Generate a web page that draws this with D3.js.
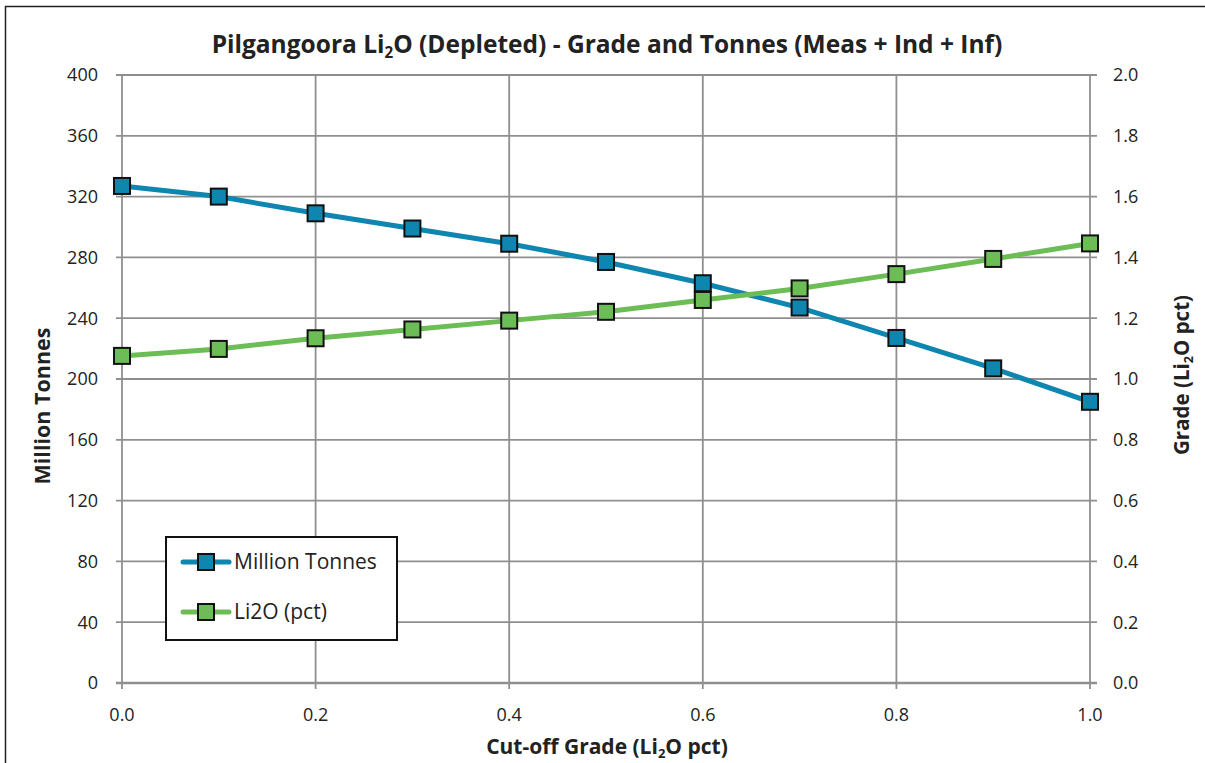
<!DOCTYPE html>
<html>
<head>
<meta charset="utf-8">
<script src="https://cdn.jsdelivr.net/npm/d3@7"></script>
<style>
  body { margin: 0; background: #fff; }
  svg text { font-family: "Open Sans", "Noto Sans", sans-serif; fill: #222; }
</style>
</head>
<body>
<div id="chart"></div>
<script>
// cut-off grades and the two series
const cutoffs = [0.0, 0.1, 0.2, 0.3, 0.4, 0.5, 0.6, 0.7, 0.8, 0.9, 1.0];
const tonnes = [327, 320, 309, 299, 289, 277, 263, 247, 227, 207, 185];
const grade = [1.076, 1.099, 1.134, 1.163, 1.192, 1.221, 1.26, 1.298, 1.345, 1.395, 1.446];

const xTicks = [0, 0.2, 0.4, 0.6, 0.8, 1.0];
const leftTicks = d3.range(0, 401, 40);
const rightTicks = d3.range(0, 2.01, 0.2);

const width = 1205;
const height = 763;
const margin = { top: 75, right: 115, bottom: 80, left: 122 };

const blue = "#0e86b0";
const green = "#6cbd55";
const gridColor = "#8f8f8f";

const svg = d3.select("#chart").append("svg")
  .attr("width", width)
  .attr("height", height);

// outer chart border (runs off the right and bottom edges)
svg.append("rect")
  .attr("x", 5.5).attr("y", 6.5)
  .attr("width", width).attr("height", height)
  .attr("fill", "none")
  .attr("stroke", "#222")
  .attr("stroke-width", 1.5);

const x = d3.scaleLinear().domain([0, 1]).range([margin.left, width - margin.right]);
const yL = d3.scaleLinear().domain([0, 400]).range([height - margin.bottom, margin.top]);
const yR = d3.scaleLinear().domain([0, 2]).range([height - margin.bottom, margin.top]);

// gridlines
svg.append("g")
  .selectAll("line")
  .data(leftTicks)
  .join("line")
  .attr("x1", x(0) - 6).attr("x2", x(1) + 7)
  .attr("y1", d => yL(d)).attr("y2", d => yL(d))
  .attr("stroke", gridColor)
  .attr("stroke-width", d => d === 0 ? 2.5 : 1.8);

svg.append("g")
  .selectAll("line")
  .data(xTicks)
  .join("line")
  .attr("x1", d => x(d)).attr("x2", d => x(d))
  .attr("y1", yL(400)).attr("y2", yL(0) + 6)
  .attr("stroke", gridColor)
  .attr("stroke-width", 1.8);

// tick labels
svg.append("g")
  .selectAll("text")
  .data(leftTicks)
  .join("text")
  .attr("x", x(0) - 24)
  .attr("y", d => yL(d))
  .attr("dy", "0.35em")
  .attr("text-anchor", "end")
  .attr("font-size", 18)
  .text(d => d);

svg.append("g")
  .selectAll("text")
  .data(rightTicks)
  .join("text")
  .attr("x", x(1) + 23)
  .attr("y", d => yR(d))
  .attr("dy", "0.35em")
  .attr("text-anchor", "start")
  .attr("font-size", 18)
  .text(d => d3.format(".1f")(d));

svg.append("g")
  .selectAll("text")
  .data(xTicks)
  .join("text")
  .attr("x", d => x(d))
  .attr("y", yL(0) + 32)
  .attr("dy", "0.35em")
  .attr("text-anchor", "middle")
  .attr("font-size", 18)
  .text(d => d3.format(".1f")(d));

// lines + markers
const series = [
  { name: "Million Tonnes", values: tonnes, y: yL, color: blue },
  { name: "Li2O (pct)", values: grade, y: yR, color: green }
];

series.forEach(s => {
  const line = d3.line()
    .x((d, i) => x(cutoffs[i]))
    .y(d => s.y(d));

  svg.append("path")
    .datum(s.values)
    .attr("d", line)
    .attr("fill", "none")
    .attr("stroke", s.color)
    .attr("stroke-width", 5);
});

series.forEach(s => {
  svg.append("g")
    .selectAll("rect")
    .data(s.values)
    .join("rect")
    .attr("x", (d, i) => x(cutoffs[i]) - 8)
    .attr("y", d => s.y(d) - 8)
    .attr("width", 16).attr("height", 16)
    .attr("fill", s.color)
    .attr("stroke", "#111")
    .attr("stroke-width", 2);
});

// legend
const legend = svg.append("g").attr("transform", "translate(166, 537)");
legend.append("rect")
  .attr("width", 231).attr("height", 103)
  .attr("fill", "#fff")
  .attr("stroke", "#111")
  .attr("stroke-width", 2);

const item = legend.selectAll("g.item")
  .data(series)
  .join("g")
  .attr("class", "item")
  .attr("transform", (d, i) => `translate(0, ${25 + i * 50})`);

item.append("line")
  .attr("x1", 17).attr("x2", 63)
  .attr("stroke", d => d.color)
  .attr("stroke-width", 5)
  .attr("stroke-linecap", "round");
item.append("rect")
  .attr("x", 32).attr("y", -8)
  .attr("width", 16).attr("height", 16)
  .attr("fill", d => d.color)
  .attr("stroke", "#111")
  .attr("stroke-width", 2);
item.append("text")
  .attr("x", 68)
  .attr("dy", "0.35em")
  .attr("font-size", 21)
  .text(d => d.name);

// titles with Li2O subscripts
function subText(sel, parts) {
  parts.forEach(p => {
    const t = sel.append("tspan").text(p.t);
    if (p.sub) t.attr("font-size", "0.62em").attr("dy", "0.3em");
    if (p.after) t.attr("dy", "-0.19em");
  });
}

const title = svg.append("text")
  .attr("x", 607).attr("y", 53)
  .attr("text-anchor", "middle")
  .attr("font-size", 24.5)
  .attr("font-weight", "bold");
subText(title, [{ t: "Pilgangoora Li" }, { t: "2", sub: true }, { t: "O (Depleted) - Grade and Tonnes (Meas + Ind + Inf)", after: true }]);

const xTitle = svg.append("text")
  .attr("x", 607).attr("y", 754)
  .attr("text-anchor", "middle")
  .attr("font-size", 21)
  .attr("font-weight", "bold");
subText(xTitle, [{ t: "Cut-off Grade (Li" }, { t: "2", sub: true }, { t: "O pct)", after: true }]);

svg.append("text")
  .attr("transform", "translate(50, 406) rotate(-90)")
  .attr("text-anchor", "middle")
  .attr("font-size", 21.5)
  .attr("font-weight", "bold")
  .text("Million Tonnes");

const yRTitle = svg.append("text")
  .attr("transform", "translate(1189, 375) rotate(-90)")
  .attr("text-anchor", "middle")
  .attr("font-size", 20.5)
  .attr("font-weight", "bold");
subText(yRTitle, [{ t: "Grade (Li" }, { t: "2", sub: true }, { t: "O pct)", after: true }]);
</script>
</body>
</html>
